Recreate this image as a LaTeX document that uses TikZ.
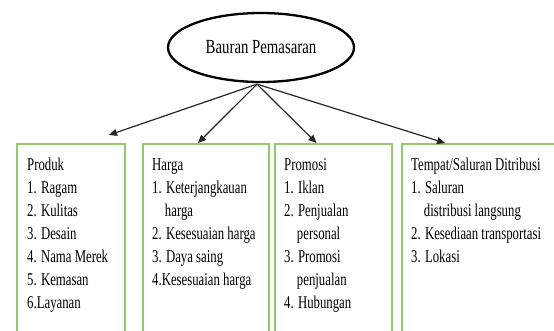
\documentclass[tikz,border=0pt]{standalone}
\usepackage{fontspec}
\usetikzlibrary{shapes.geometric,arrows.meta}
\newfontfamily\tnr[FakeStretch=0.71]{Liberation Serif}
\newfontfamily\tnrb[FakeStretch=0.74]{Liberation Serif}
\definecolor{boxgreen}{RGB}{150,200,110}
\tikzset{
  box/.style={draw=boxgreen,line width=2pt,rectangle,anchor=north west,inner sep=0pt},
  boxtext/.style={anchor=base west,inner sep=0pt,align=left,font=\tnr\fontsize{18}{23}\selectfont},
  root/.style={draw=black,line width=2.3pt,ellipse,minimum width=186pt,minimum height=69pt,inner sep=0pt,font=\tnrb\fontsize{20}{24}\selectfont},
  arr/.style={draw=black!85,line width=1.2pt,-{Triangle[length=8pt,width=7pt]}}
}
\newcommand{\hind}{\hphantom{1.\ }}
\begin{document}
\begin{tikzpicture}[x=1pt,y=-1pt]
\clip (0,0) rectangle (554,330);
\fill[white] (0,0) rectangle (554,330);
\node[root] (root) at (261,47.5) {Bauran Pemasaran};
\node[box,minimum width=108pt,minimum height=200pt] (b1) at (16,143) {};
\node[box,minimum width=126pt,minimum height=200pt] (b2) at (142,143) {};
\node[box,minimum width=117pt,minimum height=200pt] (b3) at (274,143) {};
\node[box,minimum width=170pt,minimum height=200pt] (b4) at (401,143) {};
% base anchor = baseline of last line; first baseline at 170, step 23
\node[boxtext] (t1) at (27,308) {Produk\\1. Ragam\\2. Kulitas\\3. Desain\\4. Nama Merek\\5. Kemasan\\6.Layanan};
\node[boxtext] (t2) at (152,285) {Harga\\1. Keterjangkauan\\\hind harga\\2. Kesesuaian harga\\3. Daya saing\\4.Kesesuaian harga};
\node[boxtext] (t3) at (284,308) {Promosi\\1. Iklan\\2. Penjualan\\\hind personal\\3. Promosi\\\hind penjualan\\4. Hubungan};
\node[boxtext] (t4) at (411,262) {Tempat/Saluran Ditribusi\\1. Saluran\\\hind distribusi langsung\\2. Kesediaan transportasi\\3. Lokasi};
\coordinate (s) at ([xshift=-4pt,yshift=-1pt]root.south);
\draw[arr] (s) -- ([xshift=-17pt,yshift=8pt]b1.north east);
\draw[arr] (s) -- ([xshift=-8pt]b2.north);
\draw[arr] (s) -- ([xshift=-17pt]b3.north);
\draw[arr] (s) -- ([xshift=44pt]b4.north west);
\end{tikzpicture}
\end{document}
